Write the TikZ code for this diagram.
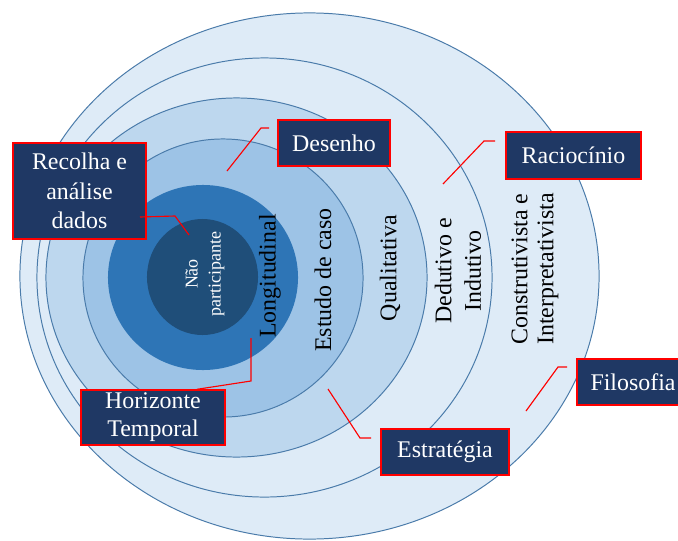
\documentclass[tikz,border=0pt]{standalone}
\usepackage{fontspec}
\setmainfont{Liberation Serif}
\usepackage{tikz}

\definecolor{ringA}{HTML}{DEEBF7}
\definecolor{ringB}{HTML}{BDD7EE}
\definecolor{ringC}{HTML}{9DC3E6}
\definecolor{ringD}{HTML}{2E75B6}
\definecolor{ringE}{HTML}{1F4E79}
\definecolor{rim}{HTML}{4A7BAA}
\definecolor{navy}{HTML}{1F3864}

\tikzset{
  ring/.style={draw=rim, line width=0.7pt},
  tag/.style={draw=red, line width=1pt, fill=navy, text=white, align=center,
    inner sep=0pt, font=\fontsize{17}{21}\selectfont},
  layer/.style={rotate=90, align=center, font=\fontsize{17}{21}\selectfont},
  leader/.style={red, line width=0.8pt}
}

\begin{document}
\begin{tikzpicture}[x=0.025cm, y=-0.025cm]
  \useasboundingbox (0,0) rectangle (678,540);
  \fill[white] (0,0) rectangle (678,540);
  % the six layers
  \draw[ring, fill=ringA] (309.5,276) ellipse [x radius=7.2375cm, y radius=6.575cm];
  \draw[ring, fill=ringA] (264.5,277.5) ellipse [x radius=5.6875cm, y radius=5.4875cm];
  \draw[ring, fill=ringB] (236.5,277.5) ellipse [x radius=4.7625cm, y radius=4.4875cm];
  \draw[ring, fill=ringC] (223,278) ellipse [x radius=3.5cm, y radius=3.475cm];
  \fill[ringD] (203,277.5) ellipse [x radius=2.375cm, y radius=2.3125cm];
  \fill[ringE] (202.5,277) ellipse [x radius=1.3875cm, y radius=1.45cm];

  \node[layer, text=white, font=\fontsize{12.8}{16.3}\selectfont] (naopart) at (205,274) {Não\\participante};
  \node[layer] (longitudinal) at (270,276) {Longitudinal};
  \node[layer] (estudo) at (323,280) {Estudo de caso};
  \node[layer] (qualitativa) at (390,268) {Qualitativa};
  \node[layer] (dedutivo) at (458,271) {Dedutivo e\\Indutivo};
  \node[layer, font=\fontsize{17}{18.4}\selectfont] (construtivista) at (535,269) {Construtivista e\\Interpretativista};

  \node[tag, minimum width=3.325cm, minimum height=2.4cm] (recolha) at (79.5,191) {Recolha e\\análise\\dados};
  \node[tag, minimum width=2.8cm, minimum height=1.15cm] (desenho) at (334,143) {Desenho};
  \node[tag, minimum width=3.375cm, minimum height=1.175cm] (raciocinio) at (573.5,155.5) {Raciocínio};
  \node[tag, minimum width=2.8cm, minimum height=1.15cm] (filosofia) at (633,382) {Filosofia};
  \node[tag, minimum width=3.2cm, minimum height=1.15cm] (estrategia) at (445,452) {Estratégia};
  \node[tag, font=\fontsize{17}{19.8}\selectfont, minimum width=3.6cm, minimum height=1.375cm] (horizonte) at (153,417.5) {Horizonte\\Temporal};

  \coordinate (recolha-out) at (140,217);
  \coordinate (recolha-in) at (189,235);
  \coordinate (desenho-out) at (269,128);
  \coordinate (desenho-in) at (227,171);
  \coordinate (raciocinio-out) at (495,141);
  \coordinate (raciocinio-in) at (443,184);
  \coordinate (filosofia-out) at (567,367);
  \coordinate (filosofia-in) at (526,411);
  \coordinate (estrategia-out) at (371,438);
  \coordinate (estrategia-in) at (328,389);
  \coordinate (horizonte-in) at (251,338);

  \draw[leader] (recolha-out) -- (175,216) -- (recolha-in);
  \draw[leader] (desenho-out) -- (261,128) -- (desenho-in);
  \draw[leader] (raciocinio-out) -- (484,141) -- (raciocinio-in);
  \draw[leader] (filosofia-out) -- (558,367) -- (filosofia-in);
  \draw[leader] (estrategia-out) -- (360,438) -- (estrategia-in);
  \draw[leader] (horizonte.north) ++(44,0) -- (251,381) -- (horizonte-in);
\end{tikzpicture}
\end{document}
